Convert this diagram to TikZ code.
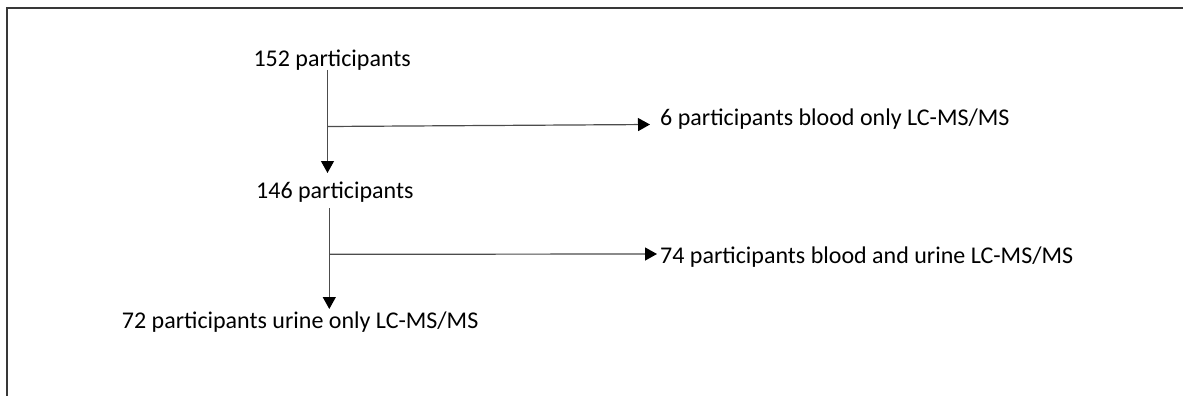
\documentclass[tikz,border=0pt]{standalone}
\usepackage{fontspec}
\setmainfont{Carlito}
\usetikzlibrary{arrows.meta}
\begin{document}
\begin{tikzpicture}[x=1pt,y=-1pt,
  lbl/.style={anchor=base west,inner sep=0pt,font=\fontsize{24}{28}\selectfont},
  arr/.style={draw=black!70,line width=1.2pt,-{Triangle[length=12pt,width=13pt,fill=black,color=black]}},
  frame/.style={draw=black!78,line width=2pt}]
\useasboundingbox (0,0) rectangle (1183,396);
\draw[frame] (6.7,396) -- (6.7,7.7) -- (1183,7.7);
\node[lbl] (n152) at (253.3,66.5) {152 participants};
\node[lbl] (n146) at (256,198) {146 participants};
\node[lbl] (n6) at (660,125.5) {6 participants blood only LC-MS/MS};
\node[lbl] (n74) at (660,263.5) {74 participants blood and urine LC-MS/MS};
\node[lbl] (n72) at (121.7,328.3) {72 participants urine only LC-MS/MS};
\coordinate (a1) at (327.5,70);
\coordinate (b1) at (327.5,173);
\coordinate (j1) at (327.5,126.5);
\coordinate (e1) at (650,124.5);
\coordinate (a2) at (329.3,208);
\coordinate (b2) at (329.3,309);
\coordinate (j2) at (329.3,254.3);
\coordinate (e2) at (657,254);
\draw[arr] (a1) -- (b1);
\draw[arr] (j1) -- (e1);
\draw[arr] (a2) -- (b2);
\draw[arr] (j2) -- (e2);
\end{tikzpicture}
\end{document}
